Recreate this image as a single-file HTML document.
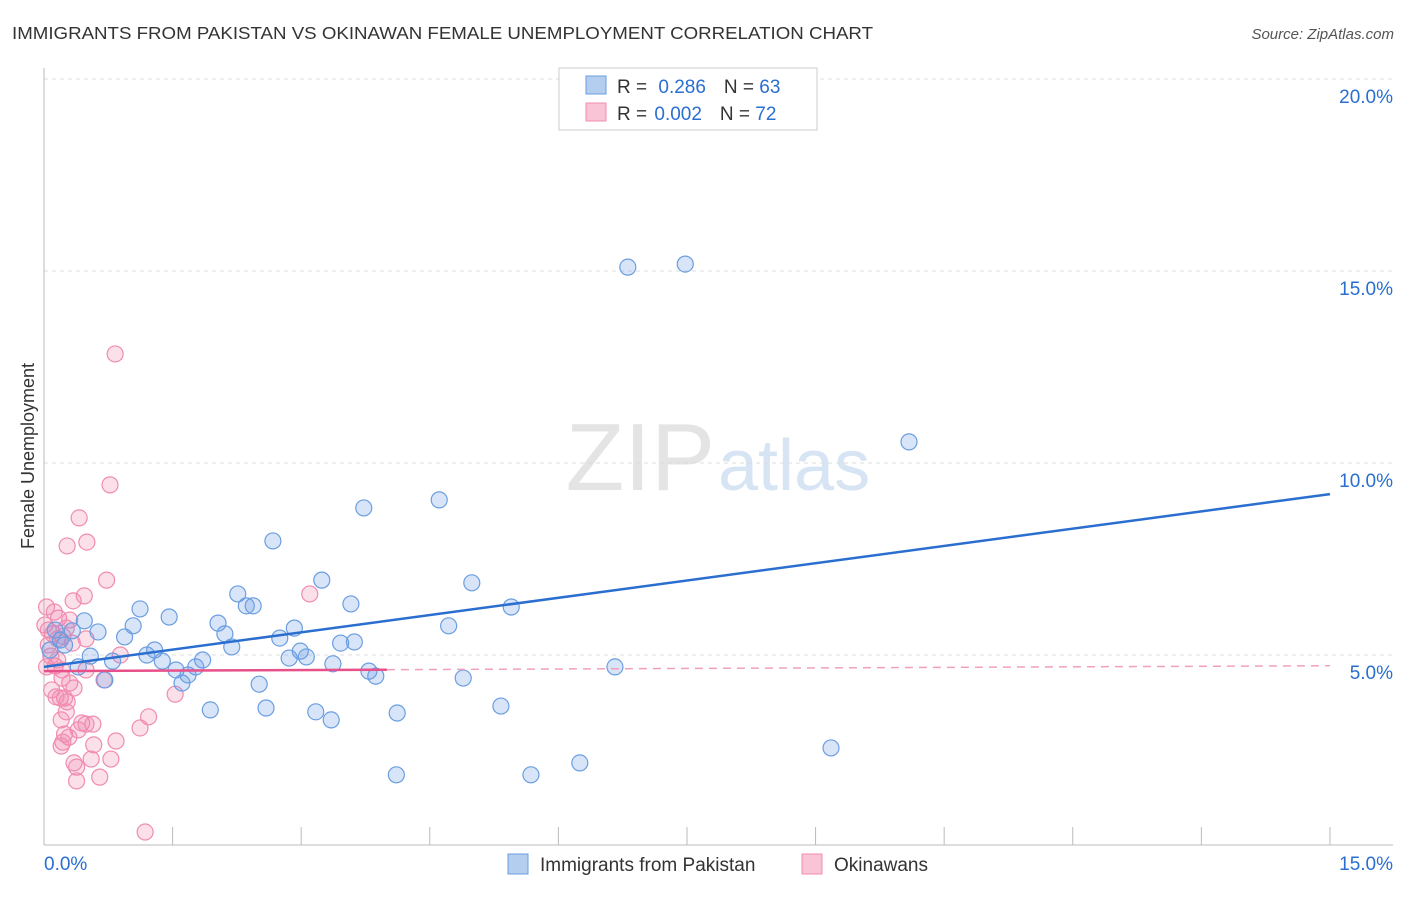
<!DOCTYPE html>
<html><head><meta charset="utf-8"><style>
body{margin:0;background:#fff;font-family:"Liberation Sans",sans-serif;}
svg text{font-family:"Liberation Sans",sans-serif;}
</style></head><body>
<svg id="chart" width="1406" height="892">
<text x="12" y="39" font-size="17.5" fill="#333" textLength="861" lengthAdjust="spacingAndGlyphs">IMMIGRANTS FROM PAKISTAN VS OKINAWAN FEMALE UNEMPLOYMENT CORRELATION CHART</text>
<text x="1394" y="39" font-size="15" fill="#555" font-style="italic" text-anchor="end">Source: ZipAtlas.com</text>
<text x="715" y="490" font-size="96" fill="#e4e4e4" font-family="Liberation Serif" text-anchor="end">ZIP</text>
<text x="718" y="490" font-size="72" fill="#d6e4f4">atlas</text>
<text x="34" y="456" font-size="18" fill="#333" text-anchor="middle" transform="rotate(-90 34 456)">Female Unemployment</text>
<g id="grid"></g><g id="axes"></g><g id="pts"></g><g id="lines"></g>
<g>
<rect x="559" y="68" width="258" height="62" fill="#fff" stroke="#ccc"/>
<rect x="586" y="76" width="20" height="18" fill="#b4cef0" stroke="#6a9ee0"/>
<rect x="586" y="103" width="20" height="18" fill="#f8c4d6" stroke="#f08cb0"/>
<text x="617" y="93" font-size="19" fill="#333">R = <tspan fill="#2a6ed0" dx="6">0.286</tspan><tspan dx="18" fill="#333">N = </tspan><tspan fill="#2a6ed0">63</tspan></text>
<text x="617" y="120" font-size="19" fill="#333">R = <tspan fill="#2a6ed0" dx="2">0.002</tspan><tspan dx="18" fill="#333">N = </tspan><tspan fill="#2a6ed0">72</tspan></text>
</g>
<g>
<rect x="508" y="854" width="20" height="20" fill="#b4cef0" stroke="#6a9ee0"/>
<text x="540" y="871" font-size="19" fill="#333">Immigrants from Pakistan</text>
<rect x="802" y="854" width="20" height="20" fill="#f8c4d6" stroke="#f08cb0"/>
<text x="834" y="871" font-size="19" fill="#333">Okinawans</text>
</g>
</svg>
<script>
const blueX=[6.81,7.48,10.09,3.73,4.61,2.67,4.99,3.24,2.26,2.44,2.36,3.58,5.45,1.12,1.46,0.47,2.03,2.92,1.04,4.72,0.63,0.94,2.11,2.75,3.46,3.62,2.19,1.29,1.20,2.99,3.06,2.86,1.85,1.38,0.54,0.80,3.37,6.66,1.77,1.54,1.68,3.79,3.87,0.71,1.61,2.51,4.89,1.94,2.59,3.17,5.33,3.35,4.12,9.18,6.25,4.11,5.68,0.33,0.24,0.13,0.19,0.40,0.07];
const blueY=[15.10,15.18,10.55,8.83,9.04,7.97,6.88,6.95,6.59,6.28,6.28,6.33,6.25,6.20,5.99,5.89,5.83,5.70,5.76,5.76,5.60,5.47,5.55,5.44,5.31,5.34,5.21,5.13,5.00,5.10,4.95,4.92,4.87,4.84,4.97,4.84,4.77,4.69,4.69,4.61,4.48,4.58,4.45,4.35,4.27,4.24,4.40,3.57,3.62,3.52,3.67,3.31,3.49,2.58,2.19,1.88,1.88,5.63,5.26,5.65,5.39,4.69,5.13];
const pinkX=[0.83,0.77,0.41,0.27,0.50,0.73,0.47,3.10,0.34,0.03,0.17,0.30,0.10,0.22,0.16,0.26,0.05,0.33,0.49,0.08,0.13,0.03,0.49,0.21,0.70,0.30,0.09,0.35,0.19,0.24,0.14,1.53,0.27,0.26,1.22,0.20,0.44,0.57,0.49,0.40,1.12,0.24,0.29,0.22,0.84,0.58,0.20,0.78,0.55,0.35,0.38,0.65,0.38,1.18,0.89,0.16,0.05,0.21,0.12,0.01];
const pinkY=[12.84,9.43,8.57,7.84,7.94,6.95,6.54,6.59,6.41,6.25,5.96,5.91,5.55,5.49,5.42,5.70,5.26,5.31,5.42,4.97,4.71,4.69,4.61,4.40,4.35,4.27,4.09,4.14,3.88,3.88,3.91,3.98,3.78,3.52,3.39,3.31,3.23,3.20,3.20,3.05,3.10,2.94,2.86,2.73,2.76,2.66,2.63,2.29,2.29,2.19,2.08,1.82,1.72,0.39,5.00,4.87,5.65,4.61,6.12,5.78];
const yTicks=[5,10,15,20];
const xTicks=[0,1.5,3,4.5,6,7.5,9,10.5,12,13.5,15];
const blueLine=[4.69,9.19];
const pinkLine=[4.58,4.72];
const pinkSolidEnd=4.0;
const X=v=>44+v*85.73, Y=v=>847-v*38.4;
const NS='http://www.w3.org/2000/svg';
function mk(parent,tag,attrs){const e=document.createElementNS(NS,tag);for(const k in attrs)e.setAttribute(k,attrs[k]);document.getElementById(parent).appendChild(e);return e;}
yTicks.forEach(t=>{
 const l=mk('grid','line',{x1:44,x2:1393,y1:Y(t),y2:Y(t),stroke:'#ddd','stroke-dasharray':'4,4'});
 
 
 const tx=mk('grid','text',{x:1393,y:Y(t)+24,'font-size':19,fill:'#2a6ed0','text-anchor':'end'});
 tx.textContent=t.toFixed(1)+'%';
 
 
});
const ax=mk('axes','line',{x1:44,x2:44,y1:68,y2:845,stroke:'#bbb'});


const bx=mk('axes','line',{x1:44,x2:1393,y1:845,y2:845,stroke:'#bbb'});


xTicks.forEach(t=>{
 const l=mk('axes','line',{x1:X(t),x2:X(t),y1:827,y2:845,stroke:'#bbb'});
 
 
});
[[0,'start',44],[15,'end',1393]].forEach(([v,a,x])=>{
 const tx=mk('axes','text',{x:x,y:870,'font-size':19,fill:'#2a6ed0','text-anchor':a});
 tx.textContent=v.toFixed(1)+'%';
 
 
});
pinkX.forEach((v,i)=>{
 const c=mk('pts','circle',{cx:X(v),cy:Y(pinkY[i]),r:8,fill:'rgba(240,130,170,0.25)',stroke:'#f08cb0','stroke-width':1.2});
 
 
});
blueX.forEach((v,i)=>{
 const c=mk('pts','circle',{cx:X(v),cy:Y(blueY[i]),r:8,fill:'rgba(100,150,230,0.25)',stroke:'#6a9ee0','stroke-width':1.2});
 
 
});
const bl=mk('lines','line',{x1:X(0),y1:Y(blueLine[0]),x2:X(15),y2:Y(blueLine[1]),stroke:'#2a6ed0','stroke-width':2.5});


const pm=pinkLine[0]+(pinkLine[1]-pinkLine[0])*pinkSolidEnd/15;
const ps=mk('lines','line',{x1:X(0),y1:Y(pinkLine[0]),x2:X(pinkSolidEnd),y2:Y(pm),stroke:'#e8508a','stroke-width':2.5});


const pd=mk('lines','line',{x1:X(pinkSolidEnd),y1:Y(pm),x2:X(15),y2:Y(pinkLine[1]),stroke:'#f0a0bc','stroke-width':1.5,'stroke-dasharray':'8,6'});


</script>
</body></html>
